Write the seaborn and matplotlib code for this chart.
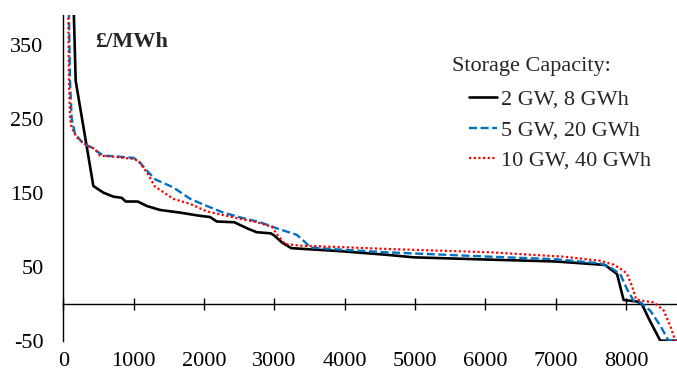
# Price duration curves for three storage capacities
import pandas as pd
import matplotlib
matplotlib.use('Agg')
import matplotlib.pyplot as plt
import seaborn as sns

# ---- data ----
hours_2gw = [0, 120, 150, 176, 427, 569, 711, 830, 887, 1058, 1186, 1375, 1660, 1920,
             2087, 2181, 2430, 2631, 2750, 2950, 3000, 3110, 3240, 3930, 4600, 4980,
             6060, 7000, 7700, 7870, 7963, 8150, 8220, 8320, 8484, 8760]
price_2gw = [1000, 480, 390, 301, 159, 150, 144.6, 143, 138, 138, 132, 126.6, 123, 119,
             117, 111, 110, 101, 96.5, 95, 92, 82.5, 75, 71, 66, 62.6,
             59.5, 57, 52.3, 40, 5, 3, 0, -20, -50, -50]

hours_5gw = [0, 81, 95, 119, 166, 285, 404, 499, 569, 735, 996, 1066, 1186, 1304, 1565,
             1805, 2039, 2276, 2513, 2797, 3058, 3318, 3437, 3508, 3934, 4600, 6067,
             7000, 7630, 7773, 7915, 8011, 8105, 8200, 8342, 8484, 8603, 8760]
price_5gw = [800, 390, 301, 250, 229.7, 215.8, 211, 204.5, 200, 199, 197, 193, 180, 168, 157,
             141.5, 132, 123, 116.6, 110, 101, 93, 83, 76, 73, 69.4, 63.5,
             60, 54.5, 49, 40, 19.8, 4, 1.8, -9.5, -29.7, -50, -50]

hours_10gw = [0, 71, 81, 95, 119, 190, 333, 451, 522, 711, 996, 1066, 1186, 1304, 1565,
              1805, 2039, 2418, 2750, 2963, 3034, 3152, 3366, 3934, 4598, 6067, 7110,
              7630, 7820, 7963, 8011, 8082, 8140, 8224, 8390, 8532, 8626, 8697, 8760]
price_10gw = [800, 390, 300, 250, 238, 224.7, 213.5, 209, 200, 198.6, 195.5, 193, 177.5, 158, 141.5,
              134.7, 124.7, 116.6, 110, 104, 94, 80.6, 78.4, 76.5, 73.9, 69.4, 63.5,
              58, 52.7, 44.6, 40, 24, 6, 4, 1.8, -9, -30, -50, -50]

series_names = ['2 GW, 8 GWh', '5 GW, 20 GWh', '10 GW, 40 GWh']
x_ticks = list(range(0, 9000, 1000))
y_major = [-50, 50, 150, 250, 350]
y_minor = [0, 100, 200, 300]

# long-form table for seaborn
df = pd.concat([
    pd.DataFrame({'hour': hours_2gw, 'price': price_2gw, 'series': series_names[0]}),
    pd.DataFrame({'hour': hours_5gw, 'price': price_5gw, 'series': series_names[1]}),
    pd.DataFrame({'hour': hours_10gw, 'price': price_10gw, 'series': series_names[2]}),
], ignore_index=True)

sns.set_theme(style='white')
plt.rcParams['font.family'] = ['Liberation Serif', 'DejaVu Serif']
plt.rcParams['axes.unicode_minus'] = False

FS = 16

fig = plt.figure(figsize=(6.77, 3.77), dpi=100)
ax = fig.add_axes([0.0935, 0.0963, 0.9065, 0.864])

palette = {series_names[0]: 'black', series_names[1]: '#0070C0', series_names[2]: '#FF0000'}
dashes = {series_names[0]: '', series_names[1]: (3.4, 1.5), series_names[2]: (1, 1.1)}
sizes = {series_names[0]: 1.9, series_names[1]: 1.7, series_names[2]: 1.6}

sns.lineplot(data=df, x='hour', y='price', hue='series', style='series', size='series',
             palette=palette, dashes=dashes, sizes=sizes, hue_order=series_names,
             estimator=None, sort=False, legend=False, ax=ax)

ax.set_xlim(0, 8722)
ax.set_ylim(-50, 390)
ax.set_xlabel('')
ax.set_ylabel('')

# y axis: labelled ticks outward, unlabelled ones inward
ax.set_yticks(y_major)
ax.set_yticks(y_minor, minor=True)
ax.tick_params(axis='y', which='major', direction='out', length=4.3, width=1,
               pad=10, labelsize=FS, colors='black')
ax.tick_params(axis='y', which='minor', direction='in', length=3.6, width=1, color='black')

# x labels stay at the bottom, the axis line itself sits at 0
ax.set_xticks(x_ticks)
ax.tick_params(axis='x', length=0, pad=8, labelsize=FS, colors='black')

for s in ['top', 'right', 'bottom']:
    ax.spines[s].set_visible(False)
ax.spines['left'].set_color('black')
ax.spines['left'].set_linewidth(1)

sec = ax.secondary_xaxis(0, transform=ax.transData)
sec.set_xticks(x_ticks)
sec.tick_params(direction='inout', length=8.6, width=1, labelbottom=False, color='black')
sec.spines['bottom'].set_linewidth(1)
sec.spines['bottom'].set_color('black')

ax.text(0.052, 0.917, '£/MWh', transform=ax.transAxes, fontsize=FS,
        fontweight='bold', va='center', ha='left')
ax.text(0.633, 0.843, 'Storage Capacity:', transform=ax.transAxes, fontsize=FS,
        va='center', ha='left')

handles = ax.get_lines()[:3]
ax.legend(handles, series_names, loc='upper left', bbox_to_anchor=(0.661, 0.772),
          frameon=False, borderpad=0, borderaxespad=0, handlelength=1.25,
          handletextpad=0.2, labelspacing=0.45, fontsize=FS)

fig.savefig('out.png', dpi=100)
